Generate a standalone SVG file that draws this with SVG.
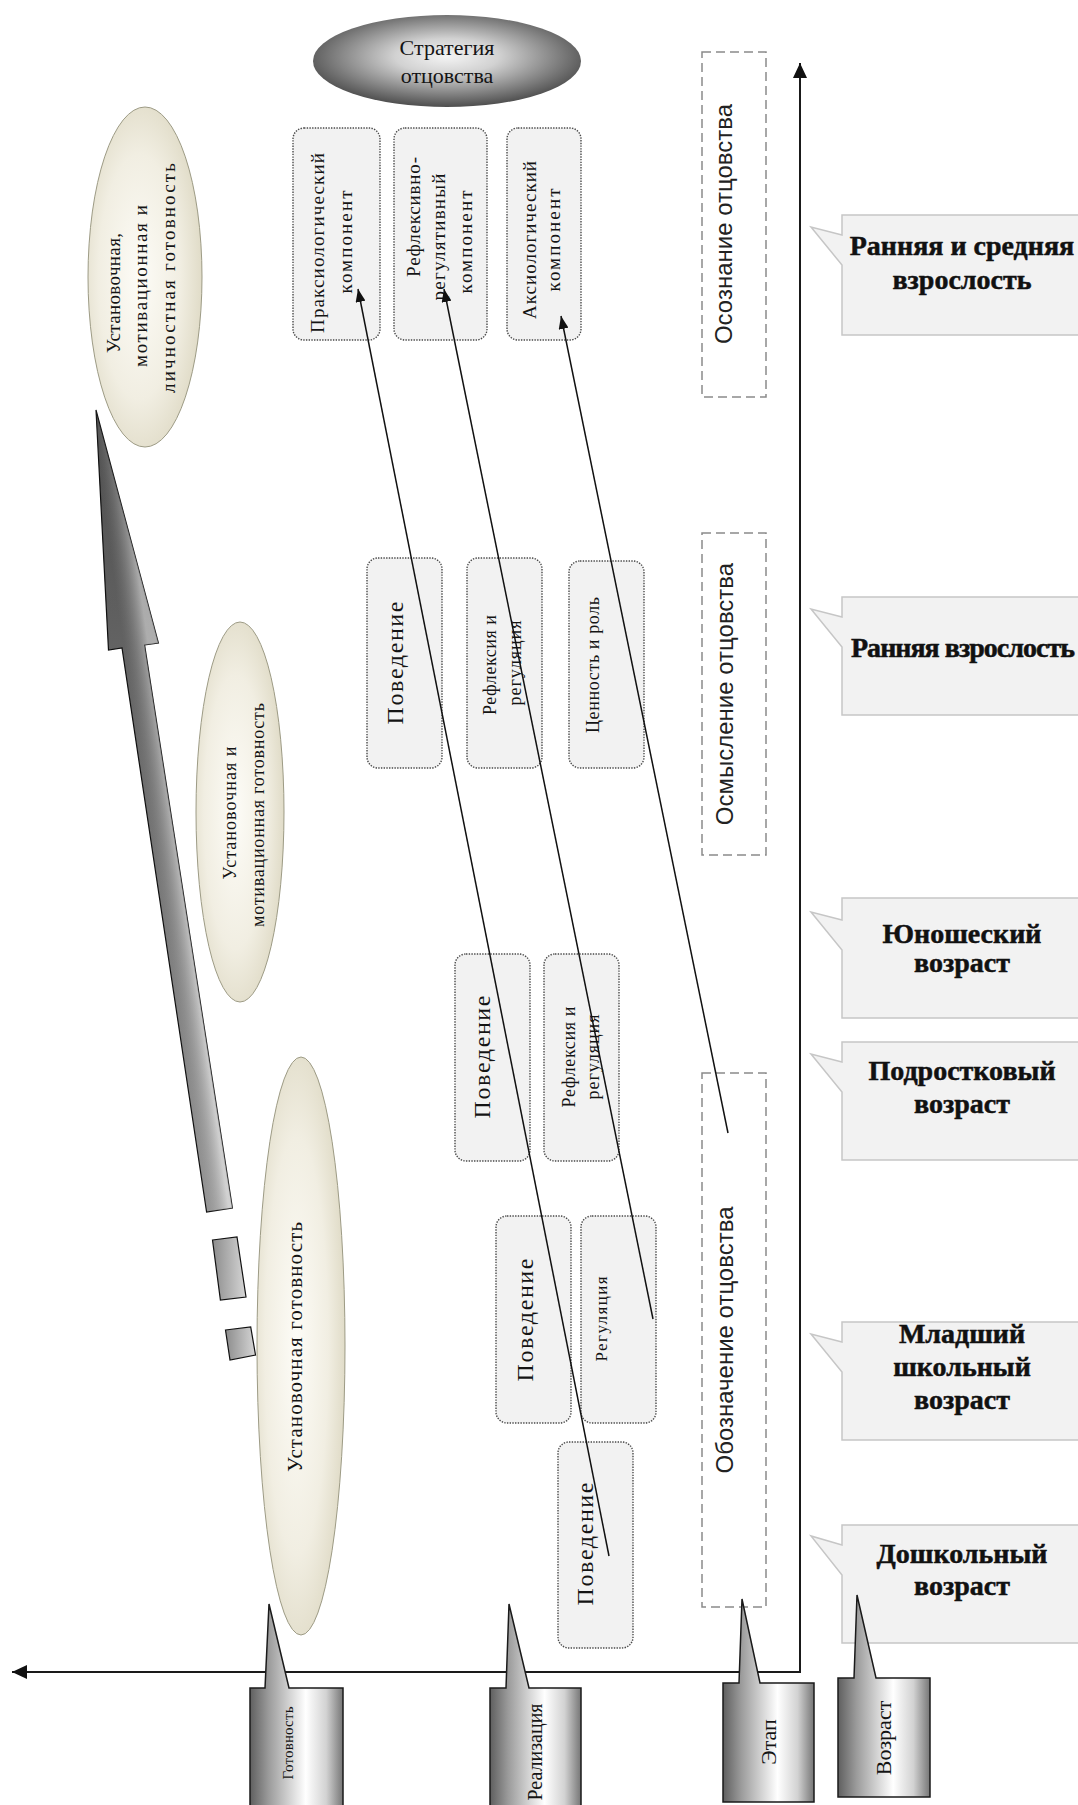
<svg xmlns="http://www.w3.org/2000/svg" width="1078" height="1805" viewBox="0 0 1078 1805">
<defs>
<style>
.t{font-family:"Liberation Serif","Times New Roman",serif;fill:#141414;text-anchor:middle}
.s{font-family:"Liberation Sans",Arial,sans-serif;fill:#222;text-anchor:middle;font-size:24px}
.b{font-family:"Liberation Serif","Times New Roman",serif;font-weight:bold;font-size:28px;text-anchor:middle;fill:#111;stroke:#111;stroke-width:0.5}
.box{fill:#f2f2f2;stroke:#4a4a4a;stroke-width:1.4;stroke-dasharray:1.4 1.3}
.stage{fill:none;stroke:#8a8a8a;stroke-width:1.5;stroke-dasharray:9 5}
.call{fill:#f2f2f2;stroke:#c6c6c6;stroke-width:1.5}
.bcall{fill:url(#gb);stroke:#1a1a1a;stroke-width:1.5}
.conn{stroke:#111;stroke-width:1.5;fill:none;marker-end:url(#ah)}
.ell{fill:url(#ge);stroke:#9d9b85;stroke-width:1}
.axis{stroke:#1a1a1a;stroke-width:2;fill:none}
</style>
<marker id="ah" markerUnits="userSpaceOnUse" markerWidth="14" markerHeight="10" refX="13" refY="5" orient="auto">
<path d="M0,0 L13,5 L0,10 Z" fill="#111"/>
</marker>
<marker id="axh" markerUnits="userSpaceOnUse" markerWidth="16" markerHeight="14" refX="15" refY="7" orient="auto-start-reverse">
<path d="M0,0 L15,7 L0,14 Z" fill="#111"/>
</marker>
<radialGradient id="ge" cx="0.45" cy="0.5" r="0.6">
<stop offset="0" stop-color="#fdfcf7"/>
<stop offset="0.6" stop-color="#f1eee2"/>
<stop offset="1" stop-color="#dcd7c1"/>
</radialGradient>
<radialGradient id="gs" cx="0.5" cy="0.45" r="0.55">
<stop offset="0" stop-color="#f4f4f4"/>
<stop offset="0.35" stop-color="#d2d2d2"/>
<stop offset="1" stop-color="#4e4e4e"/>
</radialGradient>
<linearGradient id="gb" x1="0" y1="0" x2="1" y2="0">
<stop offset="0" stop-color="#5f5f5f"/>
<stop offset="0.2" stop-color="#9b9b9b"/>
<stop offset="0.6" stop-color="#ffffff"/>
<stop offset="0.82" stop-color="#d2d2d2"/>
<stop offset="1" stop-color="#767676"/>
</linearGradient>
<linearGradient id="ga" gradientUnits="userSpaceOnUse" x1="96" y1="410" x2="232" y2="1210">
<stop offset="0" stop-color="#5e5e5e"/>
<stop offset="0.5" stop-color="#8a8a8a"/>
<stop offset="1" stop-color="#b4b4b4"/>
</linearGradient>
<linearGradient id="gx" gradientUnits="userSpaceOnUse" x1="164" y1="930" x2="188.5" y2="926.5">
<stop offset="0" stop-color="#000" stop-opacity="0.18"/>
<stop offset="1" stop-color="#fff" stop-opacity="0.4"/>
</linearGradient>
<linearGradient id="gr" x1="0" y1="0" x2="1" y2="0">
<stop offset="0" stop-color="#8c8c8c"/>
<stop offset="1" stop-color="#d6d6d6"/>
</linearGradient>
</defs>
<rect x="0" y="0" width="1078" height="1805" fill="#fff"/>

<g id="readiness-ellipse-1">
<ellipse class="ell" cx="145" cy="277" rx="57" ry="170"/>
<text class="t" font-size="19" textLength="120" transform="translate(120,293) rotate(-90)">Установочная,</text>
<text class="t" font-size="19" textLength="162" transform="translate(147,286) rotate(-90)">мотивационная и</text>
<text class="t" font-size="19" textLength="230" transform="translate(175,278) rotate(-90)">личностная готовность</text>
</g>
<g id="readiness-ellipse-2">
<ellipse class="ell" cx="240" cy="812" rx="44" ry="190"/>
<text class="t" font-size="18" textLength="133" transform="translate(236,813) rotate(-90)">Установочная и</text>
<text class="t" font-size="18" textLength="224" transform="translate(264,815) rotate(-90)">мотивационная готовность</text>
</g>
<g id="readiness-ellipse-3">
<ellipse class="ell" cx="301" cy="1346" rx="44" ry="289"/>
<text class="t" font-size="21" textLength="250" transform="translate(302,1347) rotate(-90)">Установочная готовность</text>
</g>

<g id="growth-arrow">
<polygon points="96,410 108.5,650 122,648 206.6,1212 232.4,1208 144.6,645 158.4,643" fill="url(#ga)" stroke="#111" stroke-width="1.2" stroke-linejoin="miter"/>
<polygon points="96,410 108.5,650 122,648 206.6,1212 232.4,1208 144.6,645 158.4,643" fill="url(#gx)"/>
<polygon points="212.5,1240 237,1237 246,1297 220.4,1300" fill="url(#gr)" stroke="#111" stroke-width="1.2"/>
<polygon points="225.5,1330 250.7,1327 255.5,1355 230,1360" fill="url(#gr)" stroke="#111" stroke-width="1.2"/>
</g>

<g id="strategy">
<ellipse cx="447" cy="61" rx="134" ry="46" fill="url(#gs)"/>
<text class="t" font-size="22" x="447" y="55">Стратегия</text>
<text class="t" font-size="22" x="447" y="83">отцовства</text>
</g>

<g id="praxiological">
<rect class="box" x="293" y="128" width="87" height="212" rx="11"/>
<text class="t" font-size="19" textLength="180" transform="translate(324,243) rotate(-90)">Праксиологический</text>
<text class="t" font-size="19" textLength="103" transform="translate(352,242) rotate(-90)">компонент</text>
</g>
<g id="reflexive">
<rect class="box" x="394" y="128" width="93" height="212" rx="11"/>
<text class="t" font-size="19" textLength="120" transform="translate(420,217) rotate(-90)">Рефлексивно-</text>
<text class="t" font-size="19" textLength="127" transform="translate(445,237) rotate(-90)">регулятивный</text>
<text class="t" font-size="19" textLength="103" transform="translate(472,242) rotate(-90)">компонент</text>
</g>
<g id="axiological">
<rect class="box" x="507" y="128" width="74" height="212" rx="11"/>
<text class="t" font-size="19" textLength="158" transform="translate(536,240) rotate(-90)">Аксиологический</text>
<text class="t" font-size="19" textLength="103" transform="translate(560,240) rotate(-90)">компонент</text>
</g>

<g id="r2-behavior">
<rect class="box" x="367" y="558" width="75" height="210" rx="11"/>
<text class="t" font-size="24" textLength="123" transform="translate(403,663) rotate(-90)">Поведение</text>
</g>
<g id="r2-reflexion">
<rect class="box" x="467" y="558" width="75" height="210" rx="11"/>
<text class="t" font-size="18" textLength="100" transform="translate(496,665) rotate(-90)">Рефлексия и</text>
<text class="t" font-size="18" textLength="85" transform="translate(521,663) rotate(-90)">регуляция</text>
</g>
<g id="r2-value">
<rect class="box" x="569" y="561" width="75" height="207" rx="11"/>
<text class="t" font-size="18" textLength="136" transform="translate(599,665) rotate(-90)">Ценность и роль</text>
</g>

<g id="r3-behavior">
<rect class="box" x="455" y="954" width="75" height="207" rx="11"/>
<text class="t" font-size="24" textLength="123" transform="translate(490,1057) rotate(-90)">Поведение</text>
</g>
<g id="r3-reflexion">
<rect class="box" x="544" y="954" width="75" height="207" rx="11"/>
<text class="t" font-size="18" textLength="101" transform="translate(575,1057) rotate(-90)">Рефлексия и</text>
<text class="t" font-size="18" textLength="85" transform="translate(599,1057) rotate(-90)">регуляция</text>
</g>

<g id="r4-behavior">
<rect class="box" x="496" y="1216" width="75" height="207" rx="11"/>
<text class="t" font-size="24" textLength="123" transform="translate(533,1320) rotate(-90)">Поведение</text>
</g>
<g id="r4-regulation">
<rect class="box" x="581" y="1216" width="75" height="207" rx="11"/>
<text class="t" font-size="17" textLength="85" transform="translate(607,1319) rotate(-90)">Регуляция</text>
</g>

<g id="r5-behavior">
<rect class="box" x="558" y="1442" width="75" height="206" rx="11"/>
<text class="t" font-size="24" textLength="123" transform="translate(593,1544) rotate(-90)">Поведение</text>
</g>

<g id="stage-awareness">
<rect class="stage" x="702" y="52" width="64" height="345"/>
<text class="s" transform="translate(732,224) rotate(-90)">Осознание отцовства</text>
</g>
<g id="stage-comprehension">
<rect class="stage" x="702" y="533" width="64" height="322"/>
<text class="s" transform="translate(733,694) rotate(-90)">Осмысление отцовства</text>
</g>
<g id="stage-designation">
<rect class="stage" x="702" y="1073" width="64" height="534"/>
<text class="s" transform="translate(733,1340) rotate(-90)">Обозначение отцовства</text>
</g>

<g id="age-early-middle-adult">
<path class="call" d="M842,215 L1090,215 L1090,335 L842,335 L842,265 L811,227 L842,235 Z"/>
<text class="b" x="962" y="255">Ранняя и средняя</text>
<text class="b" x="962" y="289">взрослость</text>
</g>
<g id="age-early-adult">
<path class="call" d="M842,597 L1090,597 L1090,715 L842,715 L842,647 L811,609 L842,617 Z"/>
<text class="b" x="963" y="657" textLength="224">Ранняя взрослость</text>
</g>
<g id="age-youth">
<path class="call" d="M842,898 L1090,898 L1090,1018 L842,1018 L842,950 L811,912 L842,920 Z"/>
<text class="b" x="962" y="943">Юношеский</text>
<text class="b" x="962" y="972">возраст</text>
</g>
<g id="age-teen">
<path class="call" d="M842,1042 L1090,1042 L1090,1160 L842,1160 L842,1092 L811,1054 L842,1062 Z"/>
<text class="b" x="962" y="1080">Подростковый</text>
<text class="b" x="962" y="1113">возраст</text>
</g>
<g id="age-junior-school">
<path class="call" d="M842,1322 L1090,1322 L1090,1440 L842,1440 L842,1372 L811,1334 L842,1342 Z"/>
<text class="b" x="962" y="1343">Младший</text>
<text class="b" x="962" y="1376">школьный</text>
<text class="b" x="962" y="1409">возраст</text>
</g>
<g id="age-preschool">
<path class="call" d="M842,1525 L1090,1525 L1090,1643 L842,1643 L842,1575 L811,1536 L842,1545 Z"/>
<text class="b" x="962" y="1563">Дошкольный</text>
<text class="b" x="962" y="1595">возраст</text>
</g>

<g id="axes">
<polyline class="axis" points="12,1672 800,1672 800,63" marker-start="url(#axh)" marker-end="url(#axh)"/>
</g>

<g id="connectors">
<line class="conn" x1="609" y1="1556" x2="358" y2="289"/>
<line class="conn" x1="653" y1="1319" x2="444" y2="289"/>
<line class="conn" x1="728" y1="1133" x2="561" y2="316"/>
</g>

<g id="label-readiness">
<path class="bcall" d="M250,1688 L265,1688 L269,1604 L289,1688 L343,1688 L343,1812 L250,1812 Z"/>
<text class="t" font-size="15" textLength="73" transform="translate(293,1743) rotate(-90)">Готовность</text>
</g>
<g id="label-realization">
<path class="bcall" d="M490,1688 L506,1688 L509,1604 L529,1688 L581,1688 L581,1812 L490,1812 Z"/>
<text class="t" font-size="20" transform="translate(542,1752) rotate(-90)">Реализация</text>
</g>
<g id="label-stage">
<path class="bcall" d="M723,1683 L739,1683 L742,1599 L760,1683 L814,1683 L814,1802 L723,1802 Z"/>
<text class="t" font-size="22" transform="translate(776,1742) rotate(-90)">Этап</text>
</g>
<g id="label-age">
<path class="bcall" d="M838,1678 L854,1678 L857,1595 L876,1678 L930,1678 L930,1797 L838,1797 Z"/>
<text class="t" font-size="22" transform="translate(891,1738) rotate(-90)">Возраст</text>
</g>
</svg>
